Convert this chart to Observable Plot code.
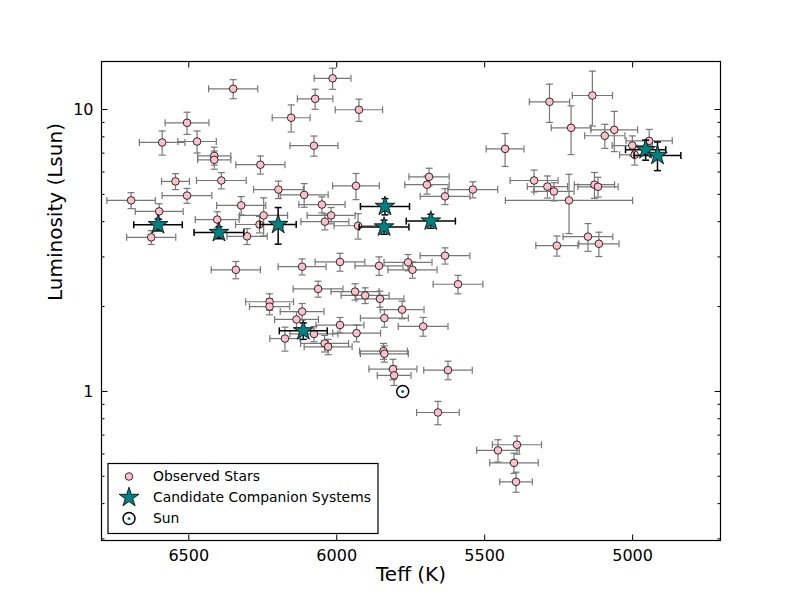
<!DOCTYPE html>
<html>
<head>
<meta charset="utf-8">
<script src="https://cdn.jsdelivr.net/npm/d3@7"></script>
<script src="https://cdn.jsdelivr.net/npm/@observablehq/plot@0.6"></script>
<style>
  body { margin: 0; background: #fff; }
  #chart { position: relative; width: 800px; height: 600px; }
</style>
</head>
<body>
<div id="chart"></div>
<script>
// Observed stars: effective temperature (K), luminosity (Lsun) and 1-sigma errors
const teff = [6014, 6350, 6506, 6154, 6590, 6472, 6414, 6414, 6258, 6545,
  6390, 6197, 6110, 6695, 6506, 6600, 6323, 6247, 6404, 6303,
  6261, 6341, 6117, 6227, 6227, 6117, 6136, 6175, 6627, 6073,
  5925, 6077, 5431, 5688, 5695, 5540, 5634, 5935, 6050, 6019,
  6040, 5928, 5634, 5989, 5857, 5759, 5744, 5590, 6063, 5938,
  5904, 5854, 5779, 5839, 5708, 6077, 5989, 5933, 6041, 6029,
  5842, 5839, 5810, 5806, 5624, 5658, 5455, 5391, 5401, 5394,
  5281, 5136, 5208, 5062, 5094, 5001, 4944, 4993, 5333, 5288,
  5266, 5215, 5129, 5117, 5151, 5256, 5114];
const lum = [12.9, 11.84, 8.97, 9.35, 7.64, 7.70, 6.85, 6.63, 6.37, 5.56,
  5.60, 5.20, 4.98, 4.76, 4.95, 4.35, 4.57, 4.21, 4.07, 3.55,
  3.91, 2.70, 2.77, 2.08, 2.00, 1.92, 1.80, 1.54, 3.52, 10.91,
  9.98, 7.44, 7.25, 5.77, 5.41, 5.20, 4.92, 5.36, 4.60, 4.21,
  4.00, 3.87, 3.03, 2.88, 2.79, 2.87, 2.70, 2.40, 2.31, 2.26,
  2.19, 2.13, 1.95, 1.82, 1.70, 1.60, 1.72, 1.61, 1.48, 1.44,
  1.39, 1.36, 1.20, 1.14, 1.19, 0.842, 0.618, 0.647, 0.558, 0.478,
  10.65, 11.21, 8.61, 8.47, 8.07, 7.45, 7.74, 6.91, 5.60, 5.33,
  5.12, 4.76, 5.41, 5.32, 3.54, 3.29, 3.34];
const teffErr = [62, 83, 74, 64, 77, 65, 56, 56, 83, 47,
  84, 84, 81, 82, 84, 81, 83, 81, 74, 68,
  81, 83, 81, 81, 68, 74, 74, 51, 83, 60,
  80, 81, 64, 68, 75, 84, 84, 79, 78, 81,
  81, 81, 84, 84, 81, 81, 83, 84, 84, 81,
  81, 81, 74, 81, 84, 81, 81, 81, 81, 81,
  81, 81, 81, 57, 82, 72, 72, 83, 82, 55,
  68, 68, 67, 79, 68, 68, 78, 51, 81, 68,
  68, 215, 68, 68, 84, 71, 68];
const lumErr = [1.11, 0.92, 0.81, 1.03, 0.75, 0.69, 0.50, 0.49, 0.47, 0.36,
  0.37, 0.37, 0.48, 0.31, 0.30, 0.28, 0.34, 0.65, 0.27, 0.23,
  0.26, 0.19, 0.18, 0.14, 0.13, 0.13, 0.12, 0.15, 0.20, 0.89,
  0.90, 0.61, 0.97, 0.42, 0.40, 0.34, 0.32, 0.57, 0.30, 0.28,
  0.26, 0.40, 0.20, 0.21, 0.21, 0.19, 0.18, 0.18, 0.15, 0.15,
  0.14, 0.14, 0.14, 0.13, 0.13, 0.10, 0.11, 0.11, 0.10, 0.09,
  0.09, 0.09, 0.10, 0.09, 0.09, 0.08, 0.056, 0.048, 0.046, 0.039,
  1.65, 2.47, 1.69, 1.38, 0.79, 0.61, 0.76, 0.56, 0.50, 0.48,
  0.38, 1.13, 0.57, 0.43, 0.40, 0.27, 0.33];

// Candidate companion systems
const candTeff = [6604, 6398, 6198, 6113, 5837, 5840, 5682, 4956, 4916];
const candLum = [3.90, 3.66, 3.91, 1.64, 4.53, 3.83, 4.02, 7.20, 6.87];
const candTeffErr = [82, 84, 61, 81, 83, 84, 83, 68, 79];
const candLumErr = [0.19, 0.18, 0.58, 0.11, 0.30, 0.22, 0.23, 0.59, 0.80];

// The Sun
const sunTeff = [5777];
const sunLum = [1];

// Axis ticks
const xTicks = [6500, 6000, 5500, 5000];
const yMajor = [1, 10];
const yMinor = [0.3, 0.4, 0.5, 0.6, 0.7, 0.8, 0.9, 2, 3, 4, 5, 6, 7, 8, 9];

const observed = teff.map((t, i) => ({t, l: lum[i], et: teffErr[i], el: lumErr[i]}));
const candidates = candTeff.map((t, i) => ({t, l: candLum[i], et: candTeffErr[i], el: candLumErr[i]}));
const sun = sunTeff.map((t, i) => ({t, l: sunLum[i]}));

// Short line symbols (half-length = r) for error-bar caps and axis ticks
const capV = {draw(ctx, size) { const h = Math.sqrt(size / Math.PI); ctx.moveTo(0, -h); ctx.lineTo(0, h); }};
const capH = {draw(ctx, size) { const h = Math.sqrt(size / Math.PI); ctx.moveTo(-h, 0); ctx.lineTo(h, 0); }};

function errorBars(data, color, width) {
  const common = {stroke: color, strokeWidth: width};
  const cap = {...common, fill: "none", r: 3.5};
  return [
    Plot.ruleY(data, {y: "l", x1: d => d.t - d.et, x2: d => d.t + d.et, ...common}),
    Plot.ruleX(data, {x: "t", y1: d => d.l - d.el, y2: d => d.l + d.el, ...common}),
    Plot.dot(data, {x: d => d.t - d.et, y: "l", symbol: capV, ...cap}),
    Plot.dot(data, {x: d => d.t + d.et, y: "l", symbol: capV, ...cap}),
    Plot.dot(data, {x: "t", y: d => d.l - d.el, symbol: capH, ...cap}),
    Plot.dot(data, {x: "t", y: d => d.l + d.el, symbol: capH, ...cap})
  ];
}

// Inward-pointing tick marks drawn against the frame edges
function xTickMarks(values, len) {
  const o = {symbol: capV, r: len / 2, stroke: "black", strokeWidth: 1, fill: "none"};
  return [
    Plot.dot(values, {x: d => d, frameAnchor: "bottom", dy: -len / 2, ...o}),
    Plot.dot(values, {x: d => d, frameAnchor: "top", dy: len / 2, ...o})
  ];
}
function yTickMarks(values, len) {
  const o = {symbol: capH, r: len / 2, stroke: "black", strokeWidth: 1, fill: "none"};
  return [
    Plot.dot(values, {y: d => d, frameAnchor: "left", dx: len / 2, ...o}),
    Plot.dot(values, {y: d => d, frameAnchor: "right", dx: -len / 2, ...o})
  ];
}

const chart = Plot.plot({
  width: 800,
  height: 600,
  marginLeft: 101,
  marginRight: 80,
  marginTop: 61,
  marginBottom: 60,
  style: {fontFamily: "DejaVu Sans", background: "white", color: "black"},
  x: {domain: [6795, 4703]},
  y: {type: "log", domain: [0.296, 14.8]},
  marks: [
    ...errorBars(observed, "#777777", 1.2),
    Plot.dot(observed, {x: "t", y: "l", r: 3.8, fill: "pink", stroke: "black", strokeWidth: 0.8}),
    ...errorBars(candidates, "black", 1.5),
    Plot.dot(candidates, {x: "t", y: "l", symbol: "star", r: 6.2, fill: "teal", stroke: "black", strokeWidth: 0.8}),
    Plot.dot(sun, {x: "t", y: "l", r: 6, fill: "white", stroke: "black", strokeWidth: 1.5}),
    Plot.dot(sun, {x: "t", y: "l", r: 1.5, fill: "#006e6e"}),
    ...xTickMarks(xTicks, 6),
    ...yTickMarks(yMajor, 6),
    ...yTickMarks(yMinor, 3),
    Plot.frame({stroke: "black", strokeWidth: 1.2}),
    // tick labels
    Plot.axisX(xTicks, {anchor: "bottom", tickSize: 0, tickPadding: 9, fontSize: 16, tickFormat: d => String(d), label: null}),
    Plot.axisY(yMajor, {anchor: "left", tickSize: 0, tickPadding: 8, fontSize: 16, tickFormat: d => String(d), label: null}),
    // axis titles
    Plot.text(["Teff (K)"], {text: d => d, frameAnchor: "bottom", dy: 40, fontSize: 20}),
    Plot.text(["Luminosity (Lsun)"], {text: d => d, frameAnchor: "left", dx: -46, rotate: -90, fontSize: 20})
  ]
});

document.getElementById("chart").appendChild(chart);

// Legend box in the lower-left corner of the axes
const svg = d3.select(chart);
const lg = svg.append("g").attr("font-family", "DejaVu Sans").attr("font-size", 13.9)
  .attr("text-anchor", "start");
lg.append("rect").attr("x", 108).attr("y", 463.5).attr("width", 270).attr("height", 70)
  .attr("fill", "white").attr("stroke", "black").attr("stroke-width", 1.2);
const rows = [
  {label: "Observed Stars", y: 476.5},
  {label: "Candidate Companion Systems", y: 497.5},
  {label: "Sun", y: 518.5}
];
lg.append("circle").attr("cx", 129).attr("cy", rows[0].y).attr("r", 3.8)
  .attr("fill", "pink").attr("stroke", "black").attr("stroke-width", 0.8);
lg.append("path").attr("transform", `translate(129,${rows[1].y})`)
  .attr("d", d3.symbol(d3.symbolStar, Math.PI * 6.2 * 6.2)())
  .attr("fill", "teal").attr("stroke", "black").attr("stroke-width", 0.8);
lg.append("circle").attr("cx", 129).attr("cy", rows[2].y).attr("r", 6)
  .attr("fill", "white").attr("stroke", "black").attr("stroke-width", 1.5);
lg.append("circle").attr("cx", 129).attr("cy", rows[2].y).attr("r", 1.5).attr("fill", "#006e6e");
lg.selectAll("text.lbl").data(rows).join("text").attr("class", "lbl")
  .attr("x", 153).attr("y", d => d.y).attr("dy", "0.35em").attr("text-anchor", "start")
  .attr("fill", "black").text(d => d.label);
</script>
</body>
</html>
